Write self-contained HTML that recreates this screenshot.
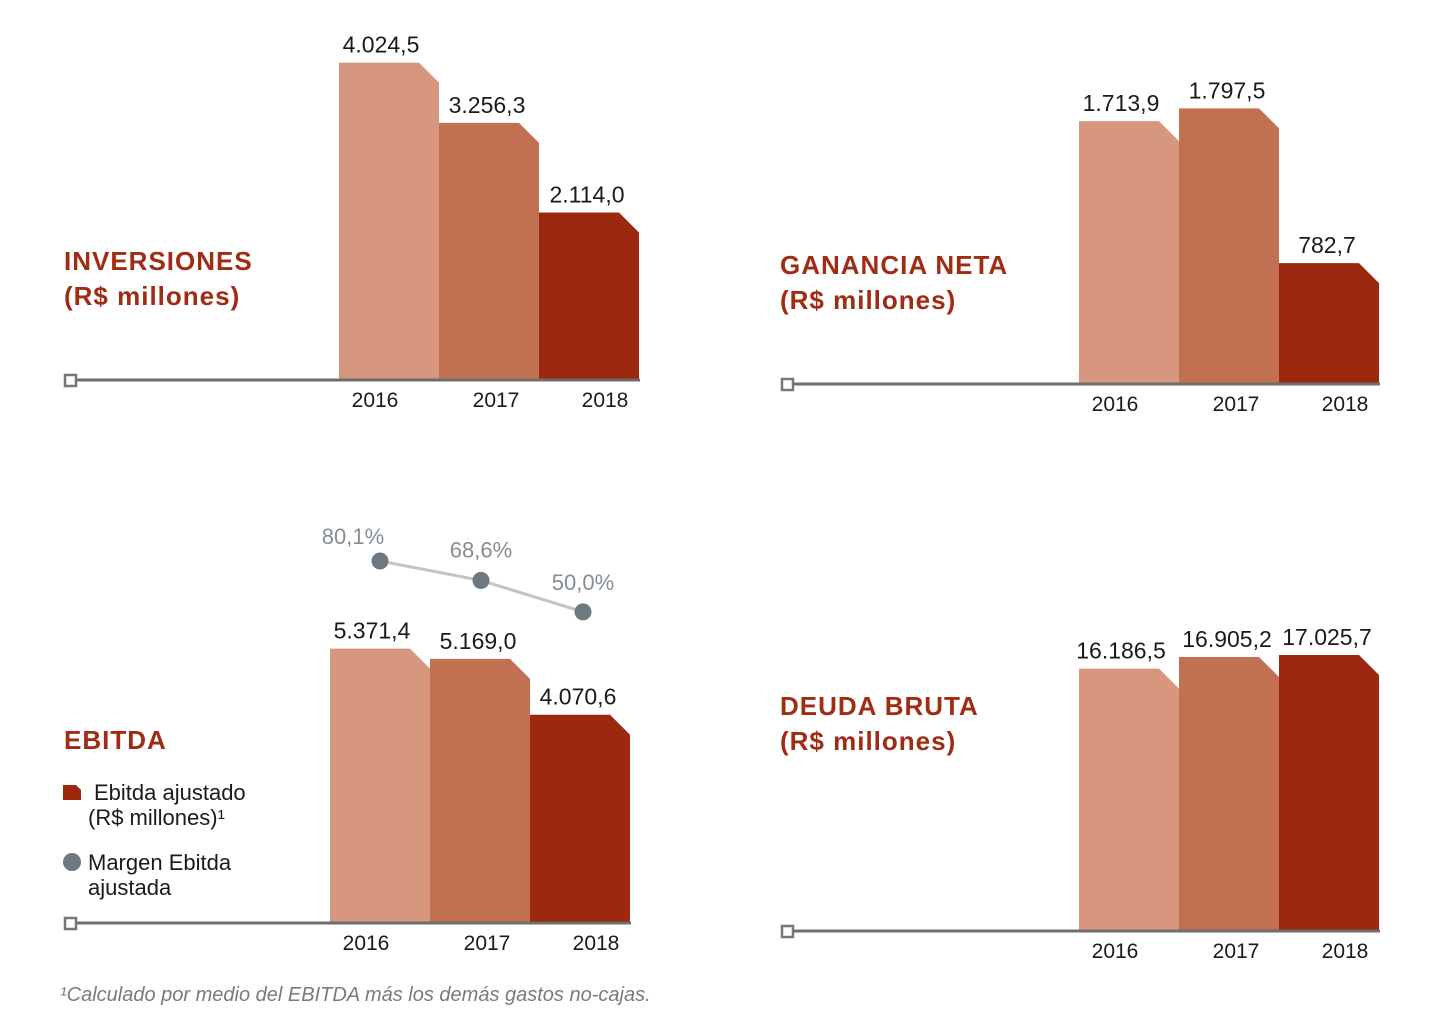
<!DOCTYPE html>
<html><head><meta charset="utf-8"><style>
body{margin:0;background:#fff;}
svg{display:block;font-family:"Liberation Sans",sans-serif;}
</style></head><body>
<svg id="c" width="1444" height="1024" viewBox="0 0 1444 1024">
<text x="60" y="1001" font-size="20" font-style="italic" fill="#7a7a7a">¹Calculado por medio del EBITDA más los demás gastos no-cajas.</text>
</svg>
<script>
const years=["2016","2017","2018"];
const invValues=[4024.5,3256.3,2114.0];
const invLabels=["4.024,5","3.256,3","2.114,0"];
const ganValues=[1713.9,1797.5,782.7];
const ganLabels=["1.713,9","1.797,5","782,7"];
const ebValues=[5371.4,5169.0,4070.6];
const ebLabels=["5.371,4","5.169,0","4.070,6"];
const margenValues=[80.1,68.6,50.0];
const margenLabels=["80,1%","68,6%","50,0%"];
const deudaValues=[16186.5,16905.2,17025.7];
const deudaLabels=["16.186,5","16.905,2","17.025,7"];
const colors=["#d6977e","#c17052","#9c2810"];
const svg=document.getElementById('c');
const NS="http://www.w3.org/2000/svg";
function mk(t,a,p){const e=document.createElementNS(NS,t);for(const k in a)e.setAttribute(k,a[k]);(p||svg).appendChild(e);return e;}
function chart(name,vals,labels,x0,baseY,scale,titleLines,titleY){
  const g=mk('g',{});
  
  
  const ax=mk('line',{x1:76,y1:baseY,x2:x0+301,y2:baseY,stroke:'#6e6e6e','stroke-width':3},g);
  
  
  const sq=mk('rect',{x:65,y:baseY-5,width:11,height:11,fill:'#fff',stroke:'#777','stroke-width':2.5},g);
  
  
  if(name!=='inversiones'&&name!=='ebitda'){sq.setAttribute('x',782);ax.setAttribute('x1',793);}
  vals.forEach((v,i)=>{
    const h=v*scale, bx=x0+i*100, top=baseY-1.5-h, w=100;
    const p=mk('polygon',{points:`${bx},${baseY-1.5} ${bx},${top} ${bx+w-20},${top} ${bx+w},${top+20} ${bx+w},${baseY-1.5}`,fill:colors[i]},g);
    
    
    const t=mk('text',{x:bx+w/2+(i==0?-8:-2),y:top-10,'font-size':23,'text-anchor':'middle',fill:'#1a1a1a'},g);
    t.textContent=labels[i];
    
    
    const y=mk('text',{x:bx+[36,57,66][i],y:baseY+27,'font-size':21,'text-anchor':'middle',fill:'#1a1a1a'},g);
    y.textContent=years[i];
    
    
  });
  titleLines.forEach((s,i)=>{
    const t=mk('text',{x:x0<700?64:780,y:titleY+i*35,'font-size':26,'font-weight':'bold',fill:'#a02c14','letter-spacing':'1'},g);
    t.textContent=s;
    
    
  });
}
chart('inversiones',invValues,invLabels,339,380,0.0785,["INVERSIONES","(R$ millones)"],270);
chart('ganancia',ganValues,ganLabels,1079,384,0.1525,["GANANCIA NETA","(R$ millones)"],274);
chart('ebitda',ebValues,ebLabels,330,923,0.0508,["EBITDA"],749);
chart('deuda',deudaValues,deudaLabels,1079,931,0.01612,["DEUDA BRUTA","(R$ millones)"],715);
const mx=[380,481,583];
const my=v=>561+(80.1-v)*1.69;
const pl=mk('polyline',{points:margenValues.map((v,i)=>mx[i]+','+my(v)).join(' '),fill:'none',stroke:'#c4c4c4','stroke-width':3});


const lblDx=[-27,0,0], lblDy=[-17,-23,-22];
margenValues.forEach((v,i)=>{
  const c=mk('circle',{cx:mx[i],cy:my(v),r:8.5,fill:'#6d787f'});
  
  
  const t=mk('text',{x:mx[i]+lblDx[i],y:my(v)+lblDy[i],'font-size':22,'text-anchor':'middle',fill:'#858d93'});
  t.textContent=margenLabels[i];
  
  
});
const l1=mk('polygon',{points:"63,785 76,785 81,790 81,800 63,800",fill:'#9c2810'});


[["Ebitda ajustado",94,800],["(R$ millones)¹",88,825],["Margen Ebitda",88,870],["ajustada",88,895]].forEach(a=>{
  const t=mk('text',{x:a[1],y:a[2],'font-size':22,fill:'#1a1a1a'});
  t.textContent=a[0];
  
  
});
const l2=mk('circle',{cx:72,cy:862,r:9,fill:'#6d787f'});


</script>
</body></html>
